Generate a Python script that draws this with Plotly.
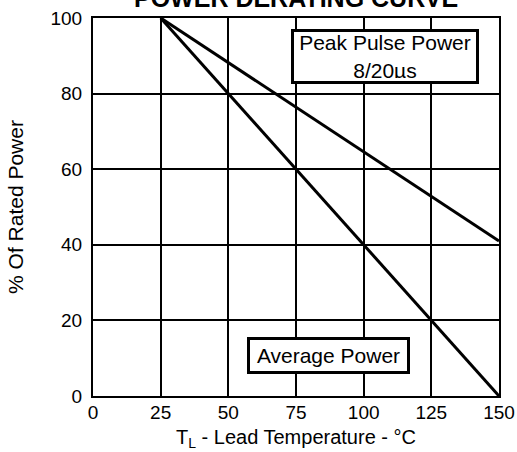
import plotly.graph_objects as go

# Data
temp_points = [25, 150]
peak_pulse_power = [100, 41]
average_power = [100, 0]
x_ticks = [0, 25, 50, 75, 100, 125, 150]
y_ticks = [0, 20, 40, 60, 80, 100]

FONT = "Liberation Sans, Arial, Helvetica, sans-serif"

fig = go.Figure()
fig.add_trace(go.Scatter(x=temp_points, y=peak_pulse_power, mode="lines",
                         line=dict(color="black", width=3), cliponaxis=False,
                         name="Peak Pulse Power"))
fig.add_trace(go.Scatter(x=temp_points, y=average_power, mode="lines",
                         line=dict(color="black", width=3), cliponaxis=False,
                         name="Average Power"))

fig.update_layout(
    width=517, height=452,
    margin=dict(l=93, r=18, t=18, b=56, pad=0),
    paper_bgcolor="white", plot_bgcolor="white",
    showlegend=False,
    font=dict(family=FONT, color="black", size=19),
)
fig.update_xaxes(range=[0, 150], tickvals=x_ticks, ticktext=[str(v) for v in x_ticks],
                 showgrid=True, gridcolor="black", gridwidth=1.5,
                 showline=True, linecolor="black", linewidth=2, mirror=True,
                 zeroline=False, ticks="", ticklabelstandoff=-2, automargin=False,
                 tickfont=dict(size=19, family=FONT),
                 title=dict(text="T<sub>L</sub> - Lead Temperature - °C",
                            font=dict(size=20, family=FONT), standoff=8))
fig.update_yaxes(range=[0, 100], tickvals=y_ticks, ticktext=[str(v) for v in y_ticks],
                 showgrid=True, gridcolor="black", gridwidth=1.5,
                 showline=True, linecolor="black", linewidth=2, mirror=True,
                 zeroline=False, ticks="", ticklabelstandoff=5, automargin=False,
                 tickfont=dict(size=19, family=FONT),
                 title=dict(text="% Of Rated Power", font=dict(size=21, family=FONT), standoff=21))

fig.add_annotation(x=108, y=89.8, xref="x", yref="y",
                   text="Peak Pulse Power<br>8/20µs", showarrow=False,
                   font=dict(size=21, family=FONT, color="black"),
                   width=176, height=43,
                   bgcolor="white", bordercolor="black", borderwidth=3, borderpad=3)
fig.add_annotation(x=86.9, y=10.7, xref="x", yref="y",
                   text="Average Power", showarrow=False,
                   font=dict(size=21, family=FONT, color="black"),
                   width=149,
                   bgcolor="white", bordercolor="black", borderwidth=3, borderpad=4)
fig.add_annotation(x=0.5, y=1.053, xref="paper", yref="paper", yanchor="middle",
                   text="<b>POWER DERATING CURVE</b>", showarrow=False,
                   font=dict(size=25, family=FONT, color="black"))

fig.write_html("out.html", config={"displayModeBar": False},
               post_script="document.body.style.margin='0';")
